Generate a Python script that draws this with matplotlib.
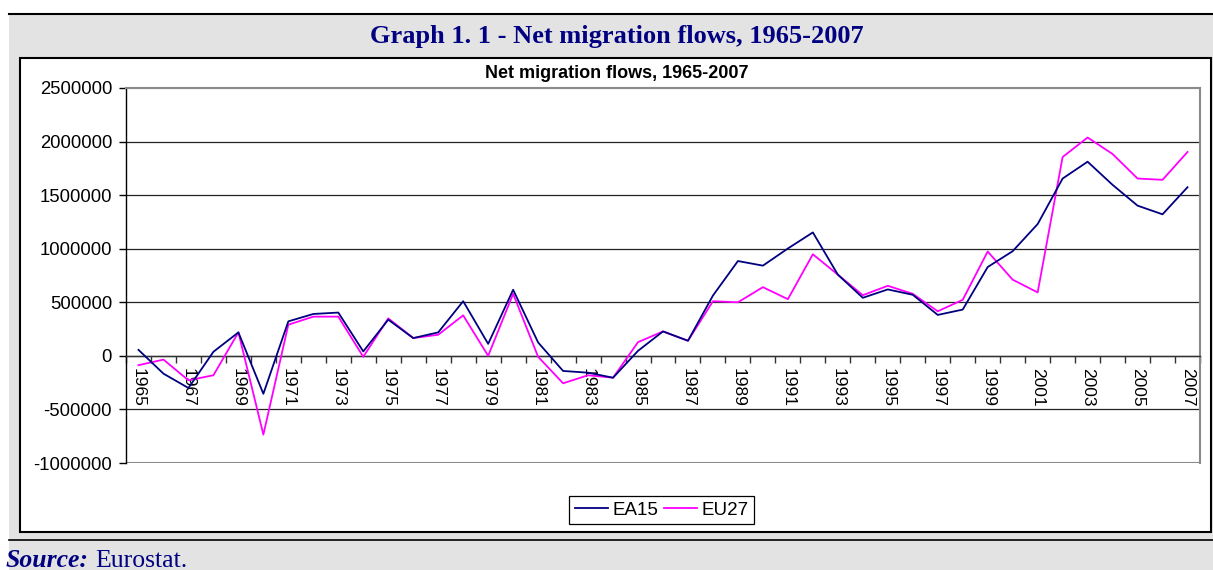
"""Net migration flows 1965-2007, EA15 vs EU27 (Eurostat)."""
import matplotlib
matplotlib.use("Agg")
import matplotlib.pyplot as plt
import matplotlib.ticker as mticker
from matplotlib.patches import Rectangle
from matplotlib.lines import Line2D

W, H = 1213, 570

YEARS = list(range(1965, 2008))

EA15 = [
    56000, -166000, -300000, 38000, 219000, -354000, 322000, 391000, 404000, 41000,
    338000, 166000, 219000, 510000, 112000, 617000, 125000, -141000, -157000, -204000,
    47000, 228000, 141000, 563000, 885000, 842000, 1002000, 1152000, 758000, 542000,
    620000, 570000, 382000, 432000, 829000, 977000, 1230000, 1655000, 1812000, 1596000,
    1402000, 1321000, 1574000,
]

EU27 = [
    -87000, -35000, -228000, -181000, 219000, -735000, 291000, 366000, 366000, -9000,
    350000, 166000, 197000, 378000, 0, 579000, -9000, -256000, -181000, -204000,
    128000, 228000, 141000, 510000, 500000, 641000, 529000, 948000, 758000, 566000,
    654000, 579000, 416000, 523000, 974000, 711000, 592000, 1856000, 2038000, 1884000,
    1655000, 1643000, 1903000,
]

Y_TICKS = [-1000000, -500000, 0, 500000, 1000000, 1500000, 2000000, 2500000]

SANS = "Liberation Sans"
SERIF = "Liberation Serif"
NAVY = "#000080"


def fx(x):
    return x / W


def fy(y):
    return 1 - y / H


fig = plt.figure(figsize=(W / 100, H / 100), dpi=100, facecolor="white")

# grey page panel with black rules
fig.patches.append(Rectangle((fx(9), 0), fx(W - 9), fy(14), transform=fig.transFigure,
                             facecolor="#e3e3e3", edgecolor="none", zorder=0))
fig.add_artist(Line2D([fx(9), 1], [fy(14), fy(14)], color="black", lw=1.5))
fig.add_artist(Line2D([fx(9), 1], [fy(540), fy(540)], color="black", lw=1.2))
# white chart box
fig.patches.append(Rectangle((fx(19.5), fy(532)), fx(1211 - 19.5), (532 - 58) / H,
                             transform=fig.transFigure, facecolor="white",
                             edgecolor="black", lw=1.5, zorder=1))

fig.text(fx(617), fy(36), "Graph 1. 1 - Net migration flows, 1965-2007",
         ha="center", va="center", fontsize=19, fontweight="bold",
         family=SERIF, color=NAVY)
fig.text(fx(617), fy(73), "Net migration flows, 1965-2007", ha="center", va="center",
         fontsize=13, fontweight="bold", family=SANS, color="black")

src = fig.text(fx(6), fy(567), "Source:", ha="left", va="baseline", fontsize=18.5,
               fontweight="bold", style="italic", family=SERIF, color=NAVY)
fig.canvas.draw()
bb = src.get_window_extent()
fig.text((bb.x1 + 6) / W, fy(567), "Eurostat.", ha="left", va="baseline",
         fontsize=18.5, family=SERIF, color=NAVY)

ax = fig.add_axes([fx(126), fy(463), fx(1200 - 126), (463 - 88) / H])
ax.set_zorder(2)
ax.set_facecolor("white")

x = list(range(len(YEARS)))
ax.plot(x, EA15, color=NAVY, lw=1.3, label="EA15", zorder=4)
ax.plot(x, EU27, color="#ff00ff", lw=1.3, label="EU27", zorder=3)

ax.set_xlim(-0.5, len(YEARS) - 0.5)
ax.set_ylim(-1000000, 2500000)

ax.set_yticks(Y_TICKS)
ax.yaxis.set_major_formatter(mticker.FuncFormatter(lambda v, _: f"{v:.0f}"))
ax.tick_params(axis="y", direction="out", length=5, width=1, pad=5,
               labelsize=13.3, colors="black")
for lbl in ax.get_yticklabels():
    lbl.set_family(SANS)

ax.grid(axis="y", color="#222222", lw=0.9, zorder=1)
ax.set_axisbelow(True)
gls = ax.yaxis.get_gridlines()
gls[0].set_color("#8a8a8a")
gls[0].set_linewidth(1.5)
gls[-1].set_color("#8a8a8a")
gls[-1].set_linewidth(1.5)

# category axis sits on the zero line
ax.spines["bottom"].set_position(("data", 0))
ax.spines["bottom"].set_color("#333333")
ax.spines["bottom"].set_linewidth(1.0)
ax.spines["left"].set_color("black")
ax.spines["left"].set_linewidth(1.0)
for side in ("top", "right"):
    ax.spines[side].set_color("#8a8a8a")
    ax.spines[side].set_linewidth(1.5)

ax.set_xticks(x[::2])
ax.set_xticklabels([str(y) for y in YEARS[::2]], rotation=-90, fontsize=12.5,
                   family=SANS, va="top", ha="center")
ax.set_xticks([i - 0.5 for i in range(len(YEARS) + 1)], minor=True)
ax.tick_params(axis="x", which="major", length=0, pad=9, top=False)
ax.tick_params(axis="x", which="minor", direction="out", length=5, width=1,
               color="#333333", top=False)

leg = fig.legend(loc="center", bbox_to_anchor=(fx(661.5), fy(510)), ncol=2,
                 frameon=True, fancybox=False, edgecolor="black", framealpha=1,
                 prop={"family": SANS, "size": 13.5}, handlelength=1.8,
                 handletextpad=0.2, columnspacing=0.3, borderpad=0.3)
leg.get_frame().set_linewidth(0.9)
leg.set_zorder(5)

fig.savefig("out.png", dpi=100, facecolor="white")
